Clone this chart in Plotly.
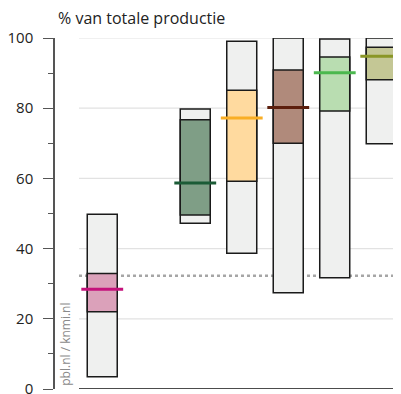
import plotly.graph_objects as go

# ---- data ----
positions = [0, 2, 3, 4, 5, 6]
outer_low = [3.5, 47.2, 38.7, 27.4, 31.7, 69.9]
outer_high = [49.8, 79.8, 99.1, 100.0, 99.7, 100.0]
inner_low = [22.0, 49.6, 59.2, 70.0, 79.2, 88.1]
inner_high = [32.9, 76.7, 85.1, 90.9, 94.6, 97.4]
medians = [28.4, 58.7, 77.2, 80.2, 90.1, 94.8]
inner_colors = ["#DBA1BA", "#7F9E86", "#FFDA9F", "#B08A7B", "#B9DDB1", "#C4C795"]
median_colors = ["#C4127B", "#1B5B36", "#F9AE25", "#5C1E0C", "#4BB84E", "#8A9626"]
reference_level = 32.3
y_ticks = [0, 20, 40, 60, 80, 100]

BAR_W = 0.645
MED_HALF = 0.45
FONT = "Open Sans"

fig = go.Figure()

fig.add_trace(go.Bar(
    x=positions,
    y=[h - l for h, l in zip(outer_high, outer_low)],
    base=outer_low,
    width=BAR_W,
    marker=dict(color="#EFF0EF", line=dict(color="#1a1a1a", width=1.5)),
    cliponaxis=False,
    hoverinfo="skip",
))
fig.add_trace(go.Bar(
    x=positions,
    y=[h - l for h, l in zip(inner_high, inner_low)],
    base=inner_low,
    width=BAR_W,
    marker=dict(color=inner_colors, line=dict(color="#1a1a1a", width=1.5)),
    cliponaxis=False,
    hoverinfo="skip",
))

for p, m, c in zip(positions, medians, median_colors):
    fig.add_trace(go.Scatter(
        x=[p - MED_HALF, p + MED_HALF], y=[m, m], mode="lines",
        line=dict(color=c, width=3), cliponaxis=False, hoverinfo="skip",
    ))

shapes = []
for t in y_ticks[1:]:
    shapes.append(dict(type="line", xref="x", yref="y", x0=-0.5, x1=10, y0=t, y1=t,
                       line=dict(color="#E2E2E2", width=1.2), layer="below"))
shapes.append(dict(type="line", xref="x", yref="y", x0=-0.5, x1=10, y0=0, y1=0,
                   line=dict(color="#111111", width=1.6), layer="above"))
shapes.append(dict(type="line", xref="x", yref="y", x0=-0.5, x1=10,
                   y0=reference_level, y1=reference_level,
                   line=dict(color="#A6A6A6", width=2.5, dash="dot"), layer="below"))

# the page body has an 8px margin, so the layout is shifted 8px up/left to compensate
fig.update_layout(
    width=401, height=394,
    margin=dict(l=47, r=0, t=29.7, b=13.3, autoexpand=False),
    paper_bgcolor="white", plot_bgcolor="white",
    showlegend=False, barmode="overlay",
    font=dict(family=FONT, color="#222222"),
    shapes=shapes,
    xaxis=dict(range=[-1.016, 6.597], showgrid=False, zeroline=False, automargin=False,
               showticklabels=False, ticks="", showline=False, fixedrange=True),
    yaxis=dict(range=[0, 100], tickvals=y_ticks, showgrid=False, zeroline=False,
               automargin=False,
               showline=True, linecolor="#555555", linewidth=1.5,
               ticks="outside", ticklen=10, tickcolor="#555555", tickwidth=1.3,
               minor=dict(dtick=10, tick0=0, ticks="outside", ticklen=5,
                          tickcolor="#555555", tickwidth=1.3),
               tickfont=dict(size=15, color="#222222", family=FONT),
               ticklabelstandoff=7),
    annotations=[
        dict(text="% van totale productie", xref="paper", yref="paper",
             x=0.003, y=1.0575, xanchor="left", yanchor="middle", showarrow=False,
             font=dict(size=16, color="#222222", family=FONT)),
        dict(text="pbl.nl / knmi.nl", xref="paper", yref="paper",
             x=0.031, y=0.005, xanchor="center", yanchor="bottom", textangle=-90,
             showarrow=False, font=dict(size=12, color="#8a8a8a", family=FONT)),
    ],
)

fig.write_html("out.html")
